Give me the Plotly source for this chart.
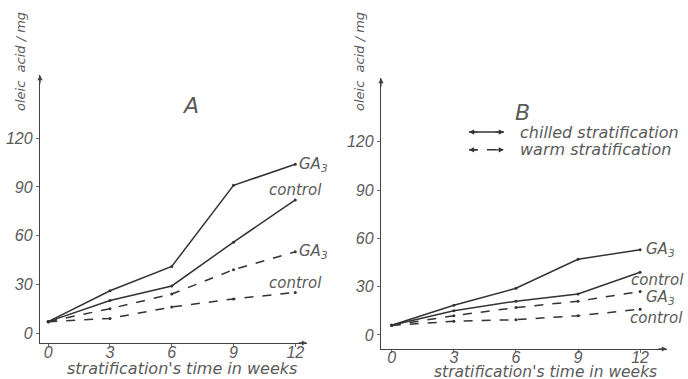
import plotly.graph_objects as go

weeks = [0, 3, 6, 9, 12]
tick_vals_y = [0, 30, 60, 90, 120]
tick_vals_x = [0, 3, 6, 9, 12]

A_chilled_GA3 = [7, 26, 41, 91, 104]
A_chilled_control = [7, 20, 29, 56, 82]
A_warm_GA3 = [7, 15, 24, 39, 50]
A_warm_control = [7, 9, 16, 21, 25]

B_chilled_GA3 = [6, 18.5, 29, 47, 53]
B_chilled_control = [6, 15, 21, 25.5, 39]
B_warm_GA3 = [6, 12, 17, 21, 27]
B_warm_control = [6, 8.5, 9.5, 12, 16]

W, H = 688, 379
LC = "#333333"
TC = "#5a5a5a"
FAM_T = "Liberation Sans, Arial, sans-serif"
FAM = "DejaVu Sans, sans-serif"

def px(x):
    return x / W

def py(y):
    return 1 - y / H

fig = go.Figure()

def add_line(xa, ya, vals, dash):
    fig.add_trace(go.Scatter(
        x=weeks, y=vals, xaxis=xa, yaxis=ya, mode="lines+markers",
        line=dict(color=LC, width=1.5, dash=dash),
        marker=dict(size=3, color=LC), showlegend=False, hoverinfo="skip"))

add_line("x", "y", A_chilled_GA3, "solid")
add_line("x", "y", A_chilled_control, "solid")
add_line("x", "y", A_warm_GA3, "dash")
add_line("x", "y", A_warm_control, "dash")
add_line("x2", "y2", B_chilled_GA3, "solid")
add_line("x2", "y2", B_chilled_control, "solid")
add_line("x2", "y2", B_warm_GA3, "dash")
add_line("x2", "y2", B_warm_control, "dash")

tickfont = dict(family=FAM_T, size=16, color=TC, style="italic")
axcommon = dict(showgrid=False, zeroline=False, showline=True, linecolor="#444444",
                linewidth=1.4, ticks="outside", ticklen=3, tickcolor="#666666",
                tickfont=tickfont, fixedrange=True)

fig.update_layout(
    width=W, height=H, margin=dict(l=0, r=0, t=0, b=0),
    paper_bgcolor="white", plot_bgcolor="white",
    xaxis=dict(domain=[px(40), px(307)], range=[-0.40, 12.57], anchor="y",
               tickvals=tick_vals_x, ticklabelstandoff=-8, **axcommon),
    yaxis=dict(domain=[py(343), py(75)], range=[-6.16, 159.0], anchor="x",
               tickvals=tick_vals_y, **axcommon),
    xaxis2=dict(domain=[px(381), px(667)], range=[-0.52, 13.3], anchor="y2",
                tickvals=tick_vals_x, ticklabelstandoff=-9, **axcommon),
    yaxis2=dict(domain=[py(349), py(78)], range=[-8.7, 159.6], anchor="x2",
                tickvals=tick_vals_y, **axcommon),
)

lab = dict(family=FAM, size=15, color=TC, style="italic")
ann = []

def txt(x, y, t, xref, yref, xanchor="left", size=15, angle=0):
    f = dict(lab)
    f["size"] = size
    ann.append(dict(x=x, y=y, xref=xref, yref=yref, text=t, showarrow=False,
                    xanchor=xanchor, yanchor="middle", font=f, textangle=angle))

# Panel A labels
txt(12.1, 104, "GA<sub>3</sub>", "x", "y")
txt(12.0, 88, "control", "x", "y", xanchor="center")
txt(12.1, 50, "GA<sub>3</sub>", "x", "y")
txt(12.0, 31, "control", "x", "y", xanchor="center")
txt(6.9, 140, "A", "x", "y", xanchor="center", size=22)

# Panel B labels
txt(12.2, 53, "GA<sub>3</sub>", "x2", "y2")
txt(12.85, 34, "control", "x2", "y2", xanchor="center")
txt(12.2, 23.5, "GA<sub>3</sub>", "x2", "y2")
txt(12.8, 10.6, "control", "x2", "y2", xanchor="center")
txt(6.3, 138, "B", "x2", "y2", xanchor="center", size=22)

# Legend in B
txt(6.1, 126, "chilled stratification", "x2", "y2", size=16)
txt(6.1, 115, "warm stratification", "x2", "y2", size=16)

# Axis titles
txt(px(182), py(368), "stratification's time in weeks", "paper", "paper", xanchor="center", size=16)
txt(px(545), py(371.5), "stratification's time in weeks", "paper", "paper", xanchor="center", size=15.5)
txt(px(21), py(62), "oleic  acid / mg", "paper", "paper", xanchor="center", size=13, angle=-90)
txt(px(360), py(62), "oleic  acid / mg", "paper", "paper", xanchor="center", size=13, angle=-90)

# axis arrow tips
for (x, y, axx, ayy) in [(px(40), py(75), 0, 10), (px(381), py(78), 0, 10),
                          (px(307), py(343), -10, 0), (px(667), py(349), -10, 0)]:
    ann.append(dict(x=x, y=y, xref="paper", yref="paper", ax=axx, ay=ayy, text="",
                    showarrow=True, arrowhead=2, arrowsize=0.8, arrowwidth=1.3,
                    arrowcolor="#444444"))

# legend sample arrows
for yv in (126, 115):
    ann.append(dict(x=3.73, y=yv, xref="x2", yref="y2", ax=4.2, ay=yv, axref="x2", ayref="y2",
                    text="", showarrow=True, arrowhead=2, arrowsize=0.8, arrowwidth=1.3,
                    arrowcolor=LC))
    ann.append(dict(x=5.42, y=yv, xref="x2", yref="y2", ax=4.95, ay=yv, axref="x2", ayref="y2",
                    text="", showarrow=True, arrowhead=2, arrowsize=0.8, arrowwidth=1.3,
                    arrowcolor=LC))

fig.update_layout(annotations=ann)

fig.add_shape(type="line", x0=3.73, x1=5.42, y0=126, y1=126, xref="x2", yref="y2",
              line=dict(color=LC, width=1.5))
fig.add_shape(type="line", x0=3.73, x1=5.42, y0=115, y1=115, xref="x2", yref="y2",
              line=dict(color=LC, width=1.5, dash="dash"))

fig.write_html("out.html", config={"displayModeBar": False},
               post_script="document.body.style.margin='0';document.body.style.overflow='hidden';")
